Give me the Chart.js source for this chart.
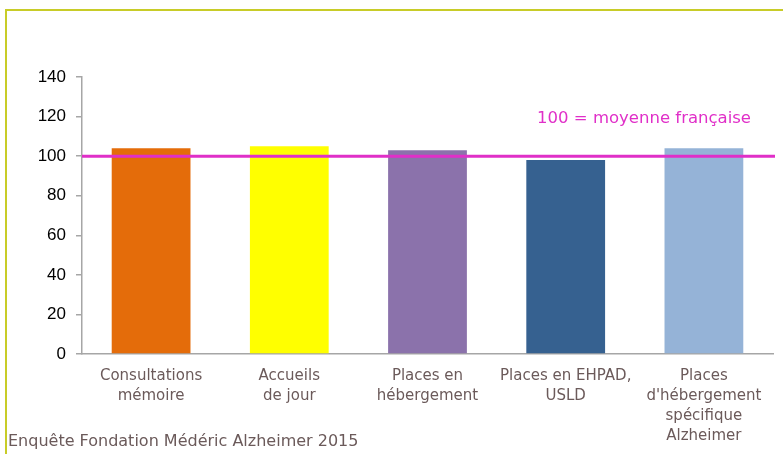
<!DOCTYPE html>
<html lang="fr">
<head>
<meta charset="utf-8">
<title>Enquête Fondation Médéric Alzheimer 2015</title>
<script src="https://cdn.jsdelivr.net/npm/chart.js@4/dist/chart.umd.min.js"></script>
<style>
  html, body { margin: 0; padding: 0; background: #fff; }
  #wrap { position: relative; width: 783px; height: 454px; overflow: hidden; }
  #frame {
    position: absolute; left: 5px; top: 9px; width: 800px; height: 460px;
    border-top: 2px solid #c8cc28; border-left: 2px solid #c8cc28;
  }
  #source {
    position: absolute; left: 8px; top: 431px;
    font: 16px "DejaVu Sans", sans-serif; color: #6b5a5a; white-space: nowrap;
  }
  canvas { position: absolute; left: 0; top: 0; }
</style>
</head>
<body>
<div id="wrap">
  <div id="frame"></div>
  <canvas id="chart" width="783" height="454"></canvas>
  <div id="source">Enquête Fondation Médéric Alzheimer 2015</div>
</div>
<script>
// Catégories (étiquettes sur plusieurs lignes)
const categories = [
  ['Consultations', 'mémoire'],
  ['Accueils', 'de jour'],
  ['Places en', 'hébergement'],
  ['Places en EHPAD,', 'USLD'],
  ['Places', "d'hébergement", 'spécifique', 'Alzheimer'],
];
// Indice (100 = moyenne française)
const indexValues = [104, 105, 103, 98, 104];
const barColors   = ['#e46c0a', '#ffff00', '#8b72ab', '#366190', '#95b3d7'];
const refValue    = 100;
const refLabel    = '100 = moyenne française';
const yTicks      = [0, 20, 40, 60, 80, 100, 120, 140];

// ── Ligne de référence + libellé ─────────────────────────────────
const refLinePlugin = {
  id: 'refLine',
  afterDatasetsDraw(chart) {
    const { ctx, chartArea, scales } = chart;
    const y = scales.y.getPixelForValue(refValue);
    ctx.save();
    ctx.strokeStyle = '#e02fc8';
    ctx.lineWidth = 3;
    ctx.beginPath();
    ctx.moveTo(chartArea.left, y);
    ctx.lineTo(chartArea.right + 2, y);
    ctx.stroke();

    ctx.fillStyle = '#e02fc8';
    ctx.font = '16.5px "DejaVu Sans", sans-serif';
    ctx.textAlign = 'right';
    ctx.textBaseline = 'middle';
    ctx.fillText(refLabel, chartArea.right - 22, scales.y.getPixelForValue(119));
    ctx.restore();
  },
};

new Chart(document.getElementById('chart'), {
  type: 'bar',
  data: {
    labels: categories,
    datasets: [{
      data: indexValues,
      backgroundColor: barColors,
      borderWidth: 0,
      categoryPercentage: 1,
      barPercentage: 0.57,
    }],
  },
  options: {
    responsive: false,
    animation: false,
    layout: { padding: { top: 77, right: 10, left: 0, bottom: 0 } },
    plugins: {
      legend: { display: false },
      tooltip: { enabled: false },
    },
    scales: {
      x: {
        grid: { display: false, drawTicks: false },
        border: { display: true, color: '#a6a6a6', width: 1.5 },
        ticks: {
          padding: 12,
          maxRotation: 0,
          autoSkip: false,
          color: '#6b5a5a',
          font: { family: 'DejaVu Sans', size: 15, lineHeight: 1.33 },
        },
        afterFit: (scale) => { scale.height = 100; },
      },
      y: {
        min: 0,
        max: 140,
        afterBuildTicks: (scale) => { scale.ticks = yTicks.map(v => ({ value: v })); },
        grid: { drawOnChartArea: false, drawTicks: true, tickLength: 6, color: '#a6a6a6', lineWidth: 1.5 },
        border: { display: true, color: '#a6a6a6', width: 1.5 },
        ticks: {
          padding: 10,
          color: '#000',
          font: { family: 'Liberation Sans', size: 17 },
        },
        afterFit: (scale) => { scale.width = 82; },
      },
    },
  },
  plugins: [refLinePlugin],
});
</script>
</body>
</html>
